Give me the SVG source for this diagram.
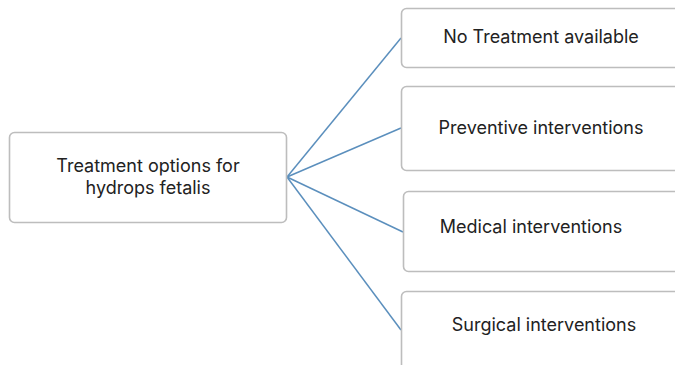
<svg xmlns="http://www.w3.org/2000/svg" width="675" height="365" viewBox="0 0 675 365">
  <style>
    .box { fill: #ffffff; stroke: #bdbdbd; stroke-width: 1.6; }
    .label { font-family: Inter, "Noto Sans", "Liberation Sans", sans-serif; font-size: 18px; fill: #222222; text-anchor: middle; }
    .link { stroke: #5b8fbd; stroke-width: 1.5; fill: none; }
  </style>
  <rect width="675" height="365" fill="#ffffff"/>
  <g id="connectors">
    <line class="link" x1="287" y1="177" x2="401" y2="38"/>
    <line class="link" x1="287" y1="177" x2="401" y2="128"/>
    <line class="link" x1="287" y1="177" x2="403" y2="232"/>
    <line class="link" x1="287" y1="177" x2="401" y2="330"/>
  </g>
  <g id="root">
    <rect class="box" x="9.5" y="132.5" width="277" height="90" rx="5"/>
    <text class="label" x="148" y="172">Treatment options for</text>
    <text class="label" x="148" y="194">hydrops fetalis</text>
  </g>
  <g id="no-treatment">
    <rect class="box" x="401.5" y="8.5" width="290" height="59" rx="5"/>
    <text class="label" x="541" y="43">No Treatment available</text>
  </g>
  <g id="preventive">
    <rect class="box" x="401.5" y="86.5" width="290" height="84" rx="5"/>
    <text class="label" x="541" y="134">Preventive interventions</text>
  </g>
  <g id="medical">
    <rect class="box" x="403.5" y="191.5" width="290" height="80" rx="5"/>
    <text class="label" x="531" y="233">Medical interventions</text>
  </g>
  <g id="surgical">
    <rect class="box" x="401.5" y="291.5" width="290" height="90" rx="5"/>
    <text class="label" x="544" y="331">Surgical interventions</text>
  </g>
</svg>
